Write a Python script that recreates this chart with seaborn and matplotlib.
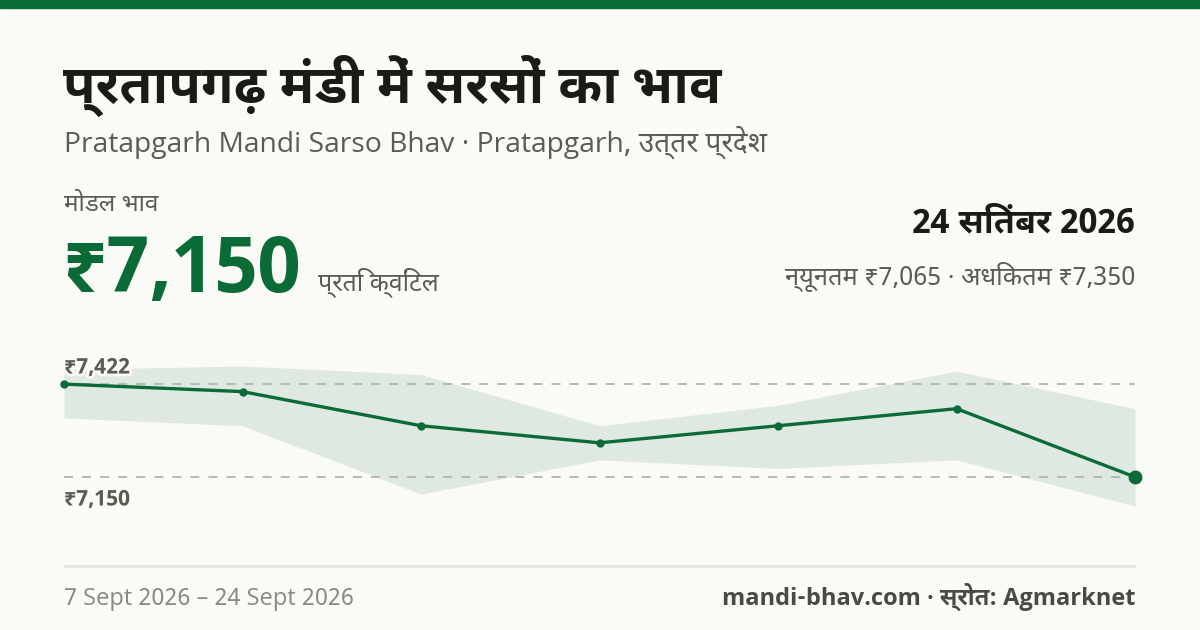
import matplotlib
matplotlib.use("Agg")
import matplotlib.pyplot as plt
import matplotlib.patheffects as pe
import pandas as pd
import seaborn as sns

# data
days = [0, 1, 2, 3, 4, 5, 6]
modal = [7422, 7400, 7300, 7250, 7300, 7350, 7150]
high = [7465, 7475, 7450, 7300, 7360, 7460, 7350]
low = [7323, 7300, 7100, 7200, 7175, 7200, 7065]
start_label = "7 Sept 2026"
end_label = "24 Sept 2026"

title = "प्रतापगढ़ मंडी में सरसों का भाव"
subtitle = "Pratapgarh Mandi Sarso Bhav · Pratapgarh, उत्तर प्रदेश"
date_text = "24 सितंबर 2026"
unit = "प्रति क्विंटल"

BG = "#fafbf7"
GREEN = "#0b6b37"
BAND = "#dfe9e1"
DARK = "#1a1a16"
GREY = "#5b5b52"
LIGHT = "#8a8a80"

sns.set_theme(style="white")
plt.rcParams["font.family"] = ["Noto Sans Devanagari UI", "Open Sans", "DejaVu Sans"]

W, H = 1200, 630
fig = plt.figure(figsize=(12, 6.3), dpi=100, facecolor=BG)


def px(x, y):
    return x / W, 1 - y / H


def put(x, y, s, size, color, weight="normal", ha="left", va="baseline", **kw):
    fig.text(*px(x, y), s, fontsize=size, color=color, fontweight=weight,
             ha=ha, va=va, **kw)


# top bar
fig.patches.append(plt.Rectangle(px(0, 8), 1, 8 / H, transform=fig.transFigure,
                                 color=GREEN, zorder=5))

put(63, 103, title, 38.5, DARK, "bold")
put(64, 152, subtitle, 20.3, GREY)
put(64, 211, "मोडल भाव", 17.5, GREY)
put(62, 292, f"₹{modal[-1]:,}", 56, GREEN, "bold")
put(318, 290, unit, 18, GREY)
put(1135, 232, date_text, 24.5, DARK, "bold", ha="right")
put(1135, 285, f"न्यूनतम ₹{low[-1]:,} · अधिकतम ₹{high[-1]:,}", 18.3, GREY, ha="right")

# chart
df = pd.DataFrame({"day": days, "modal": modal, "high": high, "low": low})
ax = fig.add_axes([64 / W, 1 - 520 / H, (1135 - 64) / W, 168 / H])
ax.set_facecolor(BG)
lo, hi = df["low"].min(), df["high"].max()
pad = (hi - lo) * 0.1
ax.set_ylim(lo - pad, hi + pad)
ax.set_xlim(df["day"].min(), df["day"].max())

ax.fill_between(df["day"], df["low"], df["high"], color=BAND, lw=0, zorder=1)
ax.axhline(df["modal"].max(), color="#b3b3ab", lw=1.3, ls=(0, (5, 5)), zorder=2)
ax.axhline(df["modal"].min(), color="#b3b3ab", lw=1.3, ls=(0, (5, 5)), zorder=2)
sns.lineplot(data=df, x="day", y="modal", ax=ax, color=GREEN, lw=2.4,
             marker="o", markersize=6, markeredgewidth=0, zorder=3, clip_on=False)
ax.plot(df["day"].iloc[-1], df["modal"].iloc[-1], "o", color=GREEN, ms=10,
        mec="none", zorder=4, clip_on=False)

halo = [pe.withStroke(linewidth=4, foreground=BG)]
ax.annotate(f"₹{df['modal'].max():,}", (0, df["modal"].max()), xytext=(0, 4),
            textcoords="offset points", fontsize=15.5, fontweight="bold", color=GREY,
            va="bottom", ha="left", path_effects=halo, zorder=5)
ax.annotate(f"₹{df['modal'].min():,}", (0, df["modal"].min()), xytext=(0, -9),
            textcoords="offset points", fontsize=15.5, fontweight="bold", color=GREY,
            va="top", ha="left", path_effects=halo, zorder=5)

for s in ax.spines.values():
    s.set_visible(False)
ax.set_xticks([])
ax.set_yticks([])
ax.set_xlabel("")
ax.set_ylabel("")

# footer
fig.add_artist(plt.Line2D([64 / W, 1135 / W], [1 - 566 / H] * 2, color="#e3e5de", lw=1.8))
put(64, 605, f"{start_label} – {end_label}", 17, LIGHT)
put(1135, 605, "mandi-bhav.com · स्रोत: Agmarknet", 17, "#4a4a42", "bold", ha="right")

fig.savefig("out.png", dpi=100, facecolor=BG)
